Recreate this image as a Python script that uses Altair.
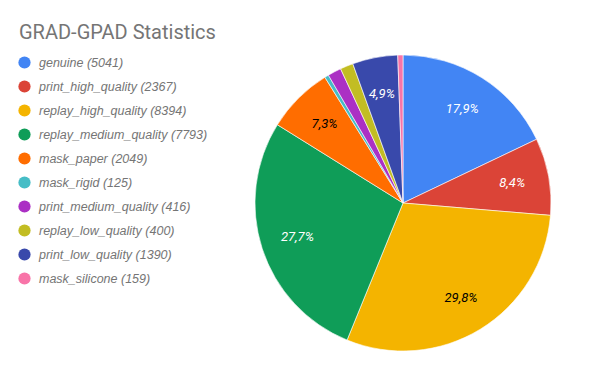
import altair as alt
import pandas as pd

title_text = "GRAD-GPAD Statistics"
categories = ["genuine", "print_high_quality", "replay_high_quality", "replay_medium_quality",
              "mask_paper", "mask_rigid", "print_medium_quality", "replay_low_quality",
              "print_low_quality", "mask_silicone"]
counts = [5041, 2367, 8394, 7793, 2049, 125, 416, 400, 1390, 159]
colors = ["#4285F4", "#DB4437", "#F4B400", "#0F9D58", "#FF6D00", "#46BDC6",
          "#AB30C4", "#C2BD23", "#3949AB", "#F874A8"]
label_colors = ["white", "white", "black", "white", "black", "white",
                "white", "white", "white", "white"]

total = sum(counts)
names = [f"{c} ({n})" for c, n in zip(categories, counts)]
labels = []
for n in counts:
    p = 100.0 * n / total
    labels.append((f"{p:.1f}".replace(".", ",") + "%") if p >= 3 else "")

df = pd.DataFrame({
    "idx": list(range(len(categories))),
    "name": names,
    "count": counts,
    "label": labels,
    "tc": label_colors,
})

cx, cy, R = 395, 195, 148

base = alt.Chart(df).encode(
    theta=alt.Theta("count:Q", stack=True),
    order=alt.Order("idx:Q"),
    x=alt.value(cx),
    y=alt.value(cy),
)

arcs = base.mark_arc(outerRadius=R, stroke="white", strokeWidth=0.6).encode(
    color=alt.Color(
        "name:N",
        sort=names,
        scale=alt.Scale(domain=names, range=colors),
        legend=alt.Legend(
            title=None,
            orient="none",
            legendX=10,
            legendY=48,
            symbolType="circle",
            symbolSize=150,
            symbolStrokeWidth=0,
            labelFont="Liberation Sans",
            labelFontSize=12.5,
            labelFontStyle="italic",
            labelColor="#757575",
            labelOffset=8,
            rowPadding=11,
            padding=0,
            labelLimit=300,
        ),
    )
)

texts = base.mark_text(radius=111, font="Roboto", fontSize=13, fontStyle="italic").encode(
    text="label:N",
    color=alt.Color("tc:N", scale=None),
)

title = alt.Chart(pd.DataFrame({"t": [title_text]})).mark_text(
    align="left", baseline="alphabetic", font="Roboto", fontSize=20, color="#757575"
).encode(text="t:N", x=alt.value(11), y=alt.value(31))

chart = (arcs + texts + title).properties(
    width=584,
    height=355,
    autosize=alt.AutoSizeParams(type="none"),
    padding=0,
).configure_view(stroke=None)

chart.save("out.html", embed_options={"renderer": "svg", "actions": False})
